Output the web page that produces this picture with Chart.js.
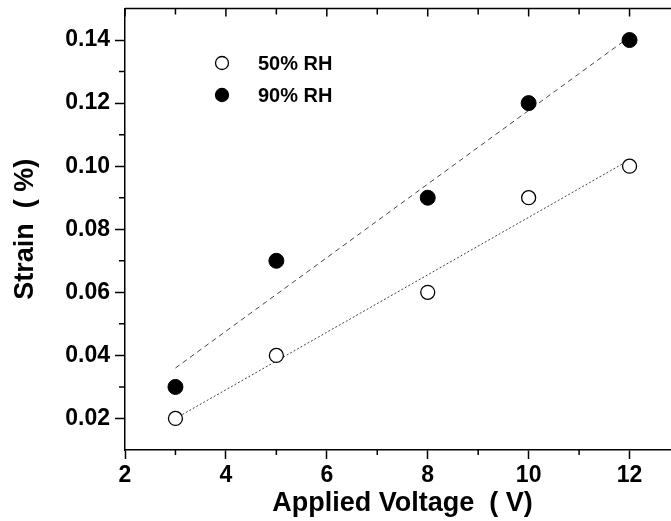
<!DOCTYPE html>
<html>
<head>
<meta charset="utf-8">
<script src="https://cdn.jsdelivr.net/npm/chart.js@4"></script>
<style>
  html, body { margin: 0; padding: 0; background: #fff; overflow: hidden; width: 671px; height: 521px; }
  canvas { display: block; }
</style>
</head>
<body>
<canvas id="strain_chart" width="700" height="521"></canvas>
<script>
// values
var voltage = [3, 5, 8, 10, 12];
var strain50 = [0.02, 0.04, 0.06, 0.09, 0.10];
var strain90 = [0.03, 0.07, 0.09, 0.12, 0.14];

// fitted lines, end points
var fitX = [3, 12];
var fit50 = [0.020, 0.102];
var fit90 = [0.036, 0.141];

var xTicks = [2, 4, 6, 8, 10, 12];
var xMinor = [3, 5, 7, 9, 11, 13];
var yTicks = [0.02, 0.04, 0.06, 0.08, 0.10, 0.12, 0.14];
var yMinor = [0.03, 0.05, 0.07, 0.09, 0.11, 0.13];

var labels = ['50% RH', '90% RH'];

function pts(xs, ys) {
  return xs.map(function (v, i) { return { x: v, y: ys[i] }; });
}

var fontName = "'Liberation Sans', Arial, sans-serif";

// box top, minor ticks and the inset legend
const frame = {
  id: 'frame',
  afterDraw(chart) {
    const ctx = chart.ctx;
    const a = chart.chartArea;
    const x = chart.scales.x;
    const y = chart.scales.y;
    ctx.save();
    ctx.strokeStyle = '#000';
    ctx.lineWidth = 1.5;
    ctx.beginPath();
    ctx.moveTo(a.left, a.top);
    ctx.lineTo(a.right, a.top);
    xTicks.forEach(function (v) {
      var px = x.getPixelForValue(v);
      ctx.moveTo(px, a.top); ctx.lineTo(px, a.top + 8);
    });
    xMinor.forEach(function (v) {
      var px = x.getPixelForValue(v);
      ctx.moveTo(px, a.top); ctx.lineTo(px, a.top + 6);
      ctx.moveTo(px, a.bottom); ctx.lineTo(px, a.bottom + 5);
    });
    yMinor.forEach(function (v) {
      var py = y.getPixelForValue(v);
      ctx.moveTo(a.left, py); ctx.lineTo(a.left - 6, py);
    });
    ctx.stroke();

    // legend
    var rows = [63, 95];
    ctx.font = 'bold 20px ' + fontName;
    ctx.textBaseline = 'middle';
    for (var i = 0; i < 2; i++) {
      ctx.beginPath();
      ctx.arc(222, rows[i], 6.5, 0, Math.PI * 2);
      ctx.fillStyle = i === 0 ? '#fff' : '#000';
      ctx.fill();
      ctx.lineWidth = 1.3;
      ctx.stroke();
      ctx.fillStyle = '#000';
      ctx.fillText(labels[i], 258, rows[i] + 1);
    }
    ctx.restore();
  }
};

const ctx_strain = document.getElementById('strain_chart').getContext('2d');
const myChart_strain = new Chart(ctx_strain, {
  type: 'scatter',
  data: {
    datasets: [{
      label: labels[0],
      data: pts(voltage, strain50),
      pointRadius: 7,
      pointBackgroundColor: '#fff',
      pointBorderColor: '#000',
      pointBorderWidth: 1.3
    }, {
      label: labels[1],
      data: pts(voltage, strain90),
      pointRadius: 7.5,
      pointBackgroundColor: '#000',
      pointBorderColor: '#000',
      pointBorderWidth: 1
    }, {
      label: 'fit 50',
      data: pts(fitX, fit50),
      showLine: true,
      pointRadius: 0,
      borderColor: '#444',
      borderWidth: 1,
      borderDash: [2, 2]
    }, {
      label: 'fit 90',
      data: pts(fitX, fit90),
      showLine: true,
      pointRadius: 0,
      borderColor: '#444',
      borderWidth: 1,
      borderDash: [5, 4]
    }]
  },
  options: {
    responsive: false,
    animation: false,
    layout: { padding: { top: 7, right: 20, left: 0, bottom: 0 } },
    plugins: {
      legend: { display: false },
      tooltip: { enabled: false }
    },
    scales: {
      x: {
        type: 'linear',
        min: 2,
        max: 13,
        afterFit: function (s) { s.height = 71; s.paddingLeft = 0; s.paddingRight = 0; },
        afterBuildTicks: function (s) { s.ticks = xTicks.map(function (v) { return { value: v }; }); },
        grid: { drawOnChartArea: false, color: '#000', tickLength: 9, tickWidth: 1.5 },
        border: { display: true, color: '#000', width: 1.5 },
        ticks: {
          color: '#000',
          padding: 3,
          font: { family: fontName, size: 23, weight: 'bold' },
          callback: function (v) { return v; }
        },
        title: {
          display: true,
          text: 'Applied Voltage  ( V)',
          color: '#000',
          padding: { top: 0, bottom: 1 },
          font: { family: fontName, size: 27, weight: 'bold' }
        }
      },
      y: {
        type: 'linear',
        min: 0.01,
        max: 0.15,
        afterFit: function (s) { s.width = 125; s.paddingTop = 0; s.paddingBottom = 0; },
        afterBuildTicks: function (s) { s.ticks = yTicks.map(function (v) { return { value: v }; }); },
        grid: { drawOnChartArea: false, color: '#000', tickLength: 10, tickWidth: 1.5 },
        border: { display: true, color: '#000', width: 1.5 },
        ticks: {
          color: '#000',
          padding: 5,
          font: { family: fontName, size: 23, weight: 'bold' },
          callback: function (v) { return v.toFixed(2); }
        },
        title: {
          display: true,
          text: 'Strain  ( %)',
          color: '#000',
          padding: { top: 9, bottom: 0 },
          font: { family: fontName, size: 27, weight: 'bold' }
        }
      }
    }
  },
  plugins: [frame]
});
</script>
</body>
</html>
